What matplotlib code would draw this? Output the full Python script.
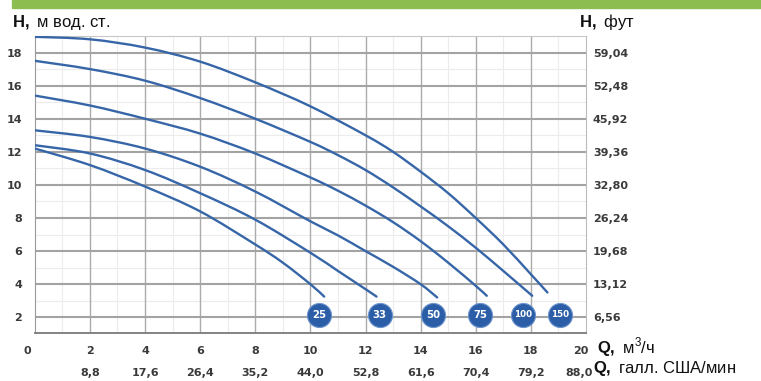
import matplotlib
matplotlib.use("Agg")
import matplotlib.pyplot as plt
import numpy as np
from matplotlib.patches import Rectangle, PathPatch
from matplotlib.path import Path
from matplotlib.transforms import ScaledTranslation

plt.rcParams['font.family'] = ['Liberation Sans', 'DejaVu Sans']
plt.rcParams['mathtext.fontset'] = 'custom'
plt.rcParams['mathtext.rm'] = 'Liberation Sans'
plt.rcParams['mathtext.bf'] = 'Liberation Sans:bold'

# ---- data ----
models = ["25", "33", "50", "75", "100", "150"]
q_25 = [0, 2, 4, 6, 8, 9, 10, 10.5]
h_25 = [12.2, 11.2, 9.9, 8.4, 6.4, 5.3, 4.0, 3.25]
q_33 = [0, 2, 4, 6, 8, 10, 11, 12, 12.4]
h_33 = [12.4, 11.9, 10.9, 9.5, 7.9, 5.9, 4.8, 3.7, 3.25]
q_50 = [0, 2, 4, 6, 8, 10, 11, 12, 13, 14, 14.6]
h_50 = [13.3, 12.9, 12.2, 11.1, 9.6, 7.8, 6.95, 6.0, 5.05, 4.0, 3.2]
q_75 = [0, 2, 4, 6, 8, 10, 11, 12, 13, 14, 15, 16, 16.4]
h_75 = [15.4, 14.8, 14.0, 13.1, 11.9, 10.45, 9.65, 8.75, 7.75, 6.6, 5.3, 3.9, 3.3]
q_100 = [0, 2, 4, 6, 8, 10, 11, 12, 13, 14, 15, 16, 17, 18.05]
h_100 = [17.5, 17.0, 16.3, 15.25, 14.0, 12.6, 11.8, 10.9, 9.85, 8.7, 7.5, 6.2, 4.8, 3.3]
q_150 = [0, 2, 4, 6, 8, 10, 12, 13, 14, 15, 16, 17, 18, 18.6]
h_150 = [18.95, 18.8, 18.3, 17.45, 16.2, 14.75, 13.0, 12.0, 10.8, 9.5, 8.0, 6.4, 4.6, 3.5]
badge_q = [10.33, 12.51, 14.46, 16.17, 17.72, 19.07]
badge_h = [2.15, 2.15, 2.15, 2.15, 2.15, 2.15]

x_ticks = [0, 2, 4, 6, 8, 10, 12, 14, 16, 18, 20]
x_labels = ["0", "2", "4", "6", "8", "10", "12", "14", "16", "18", "20"]
x2_ticks = [2, 4, 6, 8, 10, 12, 14, 16, 18, 20]
x2_labels = ["8,8", "17,6", "26,4", "35,2", "44,0", "52,8", "61,6", "70,4", "79,2", "88,0"]
y_ticks = [2, 4, 6, 8, 10, 12, 14, 16, 18]
y_labels = ["2", "4", "6", "8", "10", "12", "14", "16", "18"]
y2_labels = ["6,56", "13,12", "19,68", "26,24", "32,80", "39,36", "45,92", "52,48", "59,04"]
minor_x = [1, 3, 5, 7, 9, 11, 13, 15, 17, 19]
minor_y = [3, 5, 7, 9, 11, 13, 15, 17]

W, H = 761, 381
fig = plt.figure(figsize=(W / 100, H / 100), dpi=100)
fig.patch.set_facecolor("white")

def fx(px):
    return px / W

def fy(py):
    return 1 - py / H

ax = fig.add_axes([fx(34.8), fy(333), fx(586) - fx(34.8), fy(36) - fy(333)])
ax.set_xlim(0, 20)
ax.set_ylim(1.05, 19.0)

# grid
for v in minor_x:
    ax.axvline(v, color="#ececec", lw=0.8, zorder=0)
for v in minor_y:
    ax.axhline(v, color="#ececec", lw=0.8, zorder=0)
for v in x_ticks[1:-1]:
    ax.axvline(v, color="#ababab", lw=1.0, zorder=1)
for v in y_ticks:
    ax.axhline(v, color="#a3a3a3", lw=1.5, zorder=1)

for s in ["left", "bottom", "right", "top"]:
    ax.spines[s].set_color("#9a9a9a")
ax.spines["bottom"].set_color("#7a7a7a")
ax.spines["bottom"].set_linewidth(1.3)
ax.spines["top"].set_color("#c8c8c8")
ax.spines["right"].set_color("#bbbbbb")


def smooth_path(q, h):
    P = np.column_stack([q, h]).astype(float)
    n = len(P)
    verts = [P[0]]
    codes = [Path.MOVETO]
    for i in range(n - 1):
        p0 = P[i - 1] if i > 0 else P[i]
        p1 = P[i]
        p2 = P[i + 1]
        p3 = P[i + 2] if i + 2 < n else P[i + 1]
        c1 = p1 + (p2 - p0) / 6.0
        c2 = p2 - (p3 - p1) / 6.0
        verts += [c1, c2, p2]
        codes += [Path.CURVE4] * 3
    return Path(verts, codes)


line_color = "#3766a8"
curves = [(q_25, h_25), (q_33, h_33), (q_50, h_50), (q_75, h_75), (q_100, h_100), (q_150, h_150)]
for q, h in curves:
    ax.add_patch(PathPatch(smooth_path(q, h), facecolor="none", edgecolor=line_color,
                           lw=1.7, capstyle="round", zorder=3))

ax.scatter(badge_q, badge_h, s=300, color="#2c5ea7", edgecolor="#6d94cc", linewidth=0.8, zorder=5, clip_on=False)
for q, h, m in zip(badge_q, badge_h, models):
    ax.text(q, h, m, color="white", fontsize=7.3 if len(m) < 3 else 6.3, fontweight="bold",
            ha="center", va="center", zorder=6, family="DejaVu Sans")

tick_font = dict(family="DejaVu Sans", fontweight="bold", color="#3a3a3a")
ax.set_xticks(x_ticks, x_labels, fontsize=8, **tick_font)
ax.set_yticks(y_ticks, y_labels, fontsize=8, **tick_font)
ax.tick_params(axis="both", length=0)
ax.tick_params(axis="x", pad=9)
ax.tick_params(axis="y", pad=9)

sec = ax.secondary_xaxis("bottom")
sec.set_xticks(x2_ticks, x2_labels, fontsize=8, **tick_font)
sec.tick_params(length=0, pad=25)
sec.spines["bottom"].set_visible(False)

ax2 = ax.twinx()
ax2.set_ylim(ax.get_ylim())
ax2.set_yticks(y_ticks, y2_labels, fontsize=8, **tick_font)
ax2.tick_params(length=0, pad=5)
for s in ax2.spines.values():
    s.set_visible(False)

# nudge edge labels as in the reference
def nudge(lbl, dx_px):
    lbl.set_transform(lbl.get_transform() + ScaledTranslation(dx_px / 100, 0, fig.dpi_scale_trans))

xl = ax.get_xticklabels()
nudge(xl[0], -7)
nudge(xl[-1], -5)
nudge(sec.get_xticklabels()[-1], -7)

# header bar
fig.patches.append(Rectangle((fx(12), fy(8)), fx(761) - fx(12), fy(0) - fy(8),
                             transform=fig.transFigure, color="#8cbd50", zorder=0))

fig.text(fx(12), fy(27), r"$\mathbf{H,}$ м вод. ст.", fontsize=12, ha="left", va="baseline", color="#111111")
fig.text(fx(579), fy(27), r"$\mathbf{H,}$ фут", fontsize=12, ha="left", va="baseline", color="#111111")
fig.text(fx(597), fy(353), r"$\mathbf{Q,}$ м$^3$/ч", fontsize=12, ha="left", va="baseline", color="#111111")
fig.text(fx(593), fy(373), r"$\mathbf{Q,}$ галл. США/мин", fontsize=12, ha="left", va="baseline", color="#111111")

fig.savefig("out.png", dpi=100)
